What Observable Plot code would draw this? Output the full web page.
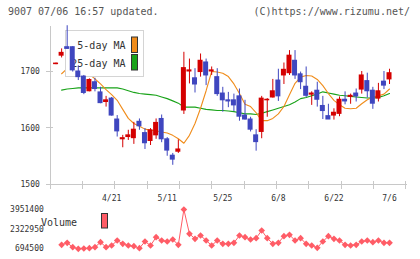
<!DOCTYPE html>
<html><head><meta charset="utf-8">
<script src="https://cdn.jsdelivr.net/npm/d3@7"></script>
<script src="https://cdn.jsdelivr.net/npm/@observablehq/plot@0.6"></script>
<style>
html,body{margin:0;padding:0;background:#fff;}
#wrap{position:relative;width:420px;height:259px;overflow:hidden;font-family:"DejaVu Sans Mono",monospace;}
.t{position:absolute;font-size:10px;color:#555;white-space:pre;line-height:10px;}
#p{position:absolute;left:0;top:0;}
#v{position:absolute;left:0;top:200px;}
</style></head><body>
<div id="wrap">
<div id="p"></div><div id="v"></div>
<div class="t" style="left:8px;top:7px">9007 07/06 16:57 updated.</div>
<div class="t" style="right:10px;top:7px">(C)https://www.rizumu.net/</div>
</div>
<script>
const dates = ["4/7","4/8","4/9","4/10","4/13","4/14","4/15","4/16","4/17","4/20","4/21","4/22","4/23","4/24","4/27","4/28","4/30","5/1","5/7","5/8","5/11","5/12","5/13","5/14","5/15","5/18","5/19","5/20","5/21","5/22","5/25","5/26","5/27","5/28","5/29","6/1","6/2","6/3","6/4","6/5","6/8","6/9","6/10","6/11","6/12","6/15","6/16","6/17","6/18","6/19","6/22","6/23","6/24","6/25","6/26","6/29","6/30","7/1","7/2","7/3","7/6"];
const open  = [1713,1728,1743,1743,1700,1691,1665,1681,1663,1646,1652,1615,1580,1584,1582,1611,1591,1577,1587,1616,1580,1551,1558,1631,1700,1688,1699,1716,1700,1690,1661,1649,1649,1656,1622,1615,1587,1593,1649,1654,1684,1693,1697,1719,1695,1673,1659,1666,1639,1621,1622,1625,1650,1655,1661,1668,1683,1666,1652,1682,1686];
const high  = [1715,1740,1781,1744,1710,1693,1687,1688,1672,1656,1654,1622,1587,1596,1610,1616,1599,1599,1616,1623,1583,1555,1579,1734,1722,1705,1731,1722,1708,1705,1672,1663,1660,1669,1649,1619,1597,1656,1652,1686,1704,1715,1737,1737,1699,1708,1664,1681,1656,1642,1634,1655,1664,1660,1669,1700,1697,1672,1679,1700,1704];
const low   = [1712,1724,1739,1699,1684,1659,1664,1664,1643,1637,1621,1584,1565,1578,1571,1596,1562,1569,1580,1574,1550,1534,1555,1624,1678,1662,1690,1675,1693,1656,1628,1636,1629,1612,1614,1593,1559,1581,1619,1653,1647,1677,1693,1686,1668,1654,1640,1637,1615,1615,1614,1620,1641,1642,1646,1660,1653,1633,1646,1668,1677];
const close = [1714,1733,1740,1702,1690,1662,1685,1669,1644,1649,1622,1594,1582,1587,1597,1603,1573,1596,1609,1580,1560,1544,1562,1706,1702,1677,1719,1693,1702,1660,1649,1647,1640,1620,1615,1597,1575,1652,1650,1665,1656,1703,1728,1693,1681,1657,1661,1650,1630,1615,1627,1650,1647,1657,1656,1693,1665,1643,1665,1675,1697];
const ma5   = [null,1696,1705,1712,1714,1705,1695,1687,1678,1668,1659,1649,1633,1617,1608,1603,1598,1596,1595,1593,1591,1587,1581,1573,1587,1608,1635,1666,1700,1699,1697,1691,1678,1661,1642,1638,1627,1613,1613,1617,1625,1638,1659,1679,1690,1693,1692,1686,1675,1661,1649,1641,1635,1634,1635,1643,1650,1655,1657,1660,1669];
const ma25  = [null,1667,1669,1670,1671,1671,1671,1671,1671,1671,1671,1671,1669,1666,1663,1661,1660,1659,1658,1655,1652,1648,1644,1637,1637,1637,1635,1633,1632,1631,1631,1630,1629,1627,1625,1625,1624,1626,1629,1632,1635,1638,1641,1646,1652,1654,1657,1660,1664,1662,1660,1658,1657,1656,1655,1654,1653,1653,1654,1657,1661];
const volume = [null,1026000,1191700,827100,694500,720000,744200,827100,1241500,827100,968000,1382300,1108900,968000,910000,744200,1299500,968000,1655800,1382300,1299500,1465200,1026000,3951400,1937600,1523200,1796700,1382300,968000,1382300,1108900,1108900,1191700,1796700,1655800,1465200,1572900,2211100,1572900,1108900,1191700,1738700,1854700,1382300,1572900,1108900,968000,777400,1299500,1738700,1523200,1382300,1026000,968000,1026000,1299500,1382300,1241500,1382300,1191700,1191700];
const labelDates = ["4/21","5/11","5/25","6/8","6/22","7/6"];
const priceTicks = [1500,1600,1700];
const volTicks = [694500,2322950,3951400];
const legendLabels = ["5-day MA","25-day MA"];

const axisColor = "#c8c8c8", red = "#d40000", blue = "#3f46bf", orange = "#f08c1a", green = "#19a319", volColor = "#ff5c66";
const rows = dates.map((date,i)=>({i,date,o:open[i],h:high[i],l:low[i],c:close[i],ma5:ma5[i],ma25:ma25[i],v:volume[i]}));
const xDomain = [-1, dates.length + 2];
const labelIdx = labelDates.map(d => dates.indexOf(d));
const font = "'DejaVu Sans Mono', monospace";
const candleColor = d => d.c >= d.o ? red : blue;

function axisDecor(index, {x, y}) {
  const g = d3.create("svg:g").attr("stroke", axisColor).attr("fill","none").attr("shape-rendering","crispEdges");
  const x0 = x(xDomain[0]), x1 = x(xDomain[1]), yb = y(priceTicks[0]), yt = y(1780);
  g.append("line").attr("x1",x0).attr("x2",x0).attr("y1",yt).attr("y2",yb+5);
  g.append("line").attr("x1",x0-3.5).attr("x2",x1+1).attr("y1",yb).attr("y2",yb);
  for (const p of priceTicks) g.append("line").attr("x1",x0-4.3).attr("x2",x0+3.3).attr("y1",y(p)).attr("y2",y(p));
  const n = 11;
  for (let j=0;j<=n;j++){ const xx = x0+(x1-x0)*j/n; g.append("line").attr("x1",xx).attr("x2",xx).attr("y1",yb-3).attr("y2",yb+5); }
  return g.node();
}
function legendMark() {
  const g = d3.create("svg:g");
  g.append("rect").attr("x",65.5).attr("y",30.5).attr("width",78).attr("height",46).attr("fill","white").attr("stroke","#d4d4d4");
  const cols = [orange, green], base = [49.3, 66.5];
  legendLabels.forEach((lab,k)=>{
    g.append("text").attr("x",125.5).attr("y",base[k]).attr("text-anchor","end").attr("font-size",10).attr("fill","#333").attr("font-family",font).text(lab);
    g.append("rect").attr("x",131.5).attr("y",k?54.5:37).attr("width",6).attr("height",15.5).attr("fill",cols[k]).attr("stroke","#333");
  });
  return g.node();
}
function volLegend() {
  const g = d3.create("svg:g");
  g.append("text").attr("x",59).attr("y",26).attr("font-size",10).attr("fill","#333").attr("font-family",font).text("Volume");
  g.append("rect").attr("x",101.5).attr("y",13.5).attr("width",6).attr("height",14.5).attr("fill",volColor).attr("stroke","#333");
  return g.node();
}

const price = Plot.plot({
  width: 420, height: 205, marginLeft: 50, marginRight: 14.3, marginTop: 25.8, marginBottom: 21,
  x: {domain: xDomain, label: null}, y: {domain: [1500, 1780], label: null}, color: {type: "identity"},
  style: {background: "transparent", fontFamily: font, fontSize: "8px", color: "#333", overflow: "visible"},
  marks: [
    axisDecor,
    Plot.line(rows, {x:"i", y:"ma25", stroke: green, strokeWidth: 1.1}),
    Plot.line(rows, {x:"i", y:"ma5", stroke: orange, strokeWidth: 1.1}),
    legendMark,
    Plot.ruleX(rows, {x:"i", y1:"l", y2:"h", stroke: candleColor, strokeWidth: 1}),
    Plot.rect(rows, {x1: d=>d.i-0.45, x2: d=>d.i+0.45, y1:"o", y2:"c", fill: candleColor, insetTop:-0.5, insetBottom:-0.5}),
    Plot.axisY({ticks: priceTicks, tickSize: 0, tickPadding: 10.7, tickFormat: d=>String(d), label: null}),
    Plot.axisX({ticks: labelIdx, tickSize: 0, tickPadding: 11, tickFormat: i=>dates[i], label: null})
  ]
});
document.getElementById("p").append(price);

const vol = Plot.plot({
  width: 420, height: 59, marginLeft: 50, marginRight: 14.3, marginTop: 9, marginBottom: 10.7,
  x: {domain: xDomain, axis: null, label: null}, y: {domain: [volTicks[0], volTicks[2]], label: null},
  style: {background: "transparent", fontFamily: font, fontSize: "8px", color: "#333", overflow: "visible"},
  marks: [
    Plot.line(rows, {x:"i", y:"v", stroke: volColor, strokeWidth: 1}),
    Plot.dot(rows, {x:"i", y:"v", symbol: d3.symbolDiamond2, r: 3, fill: volColor}),
    Plot.axisY({ticks: volTicks, tickSize: 0, tickPadding: 6.7, tickFormat: d=>String(d), label: null}),
    volLegend
  ]
});
document.getElementById("v").append(vol);
</script>
</body></html>
